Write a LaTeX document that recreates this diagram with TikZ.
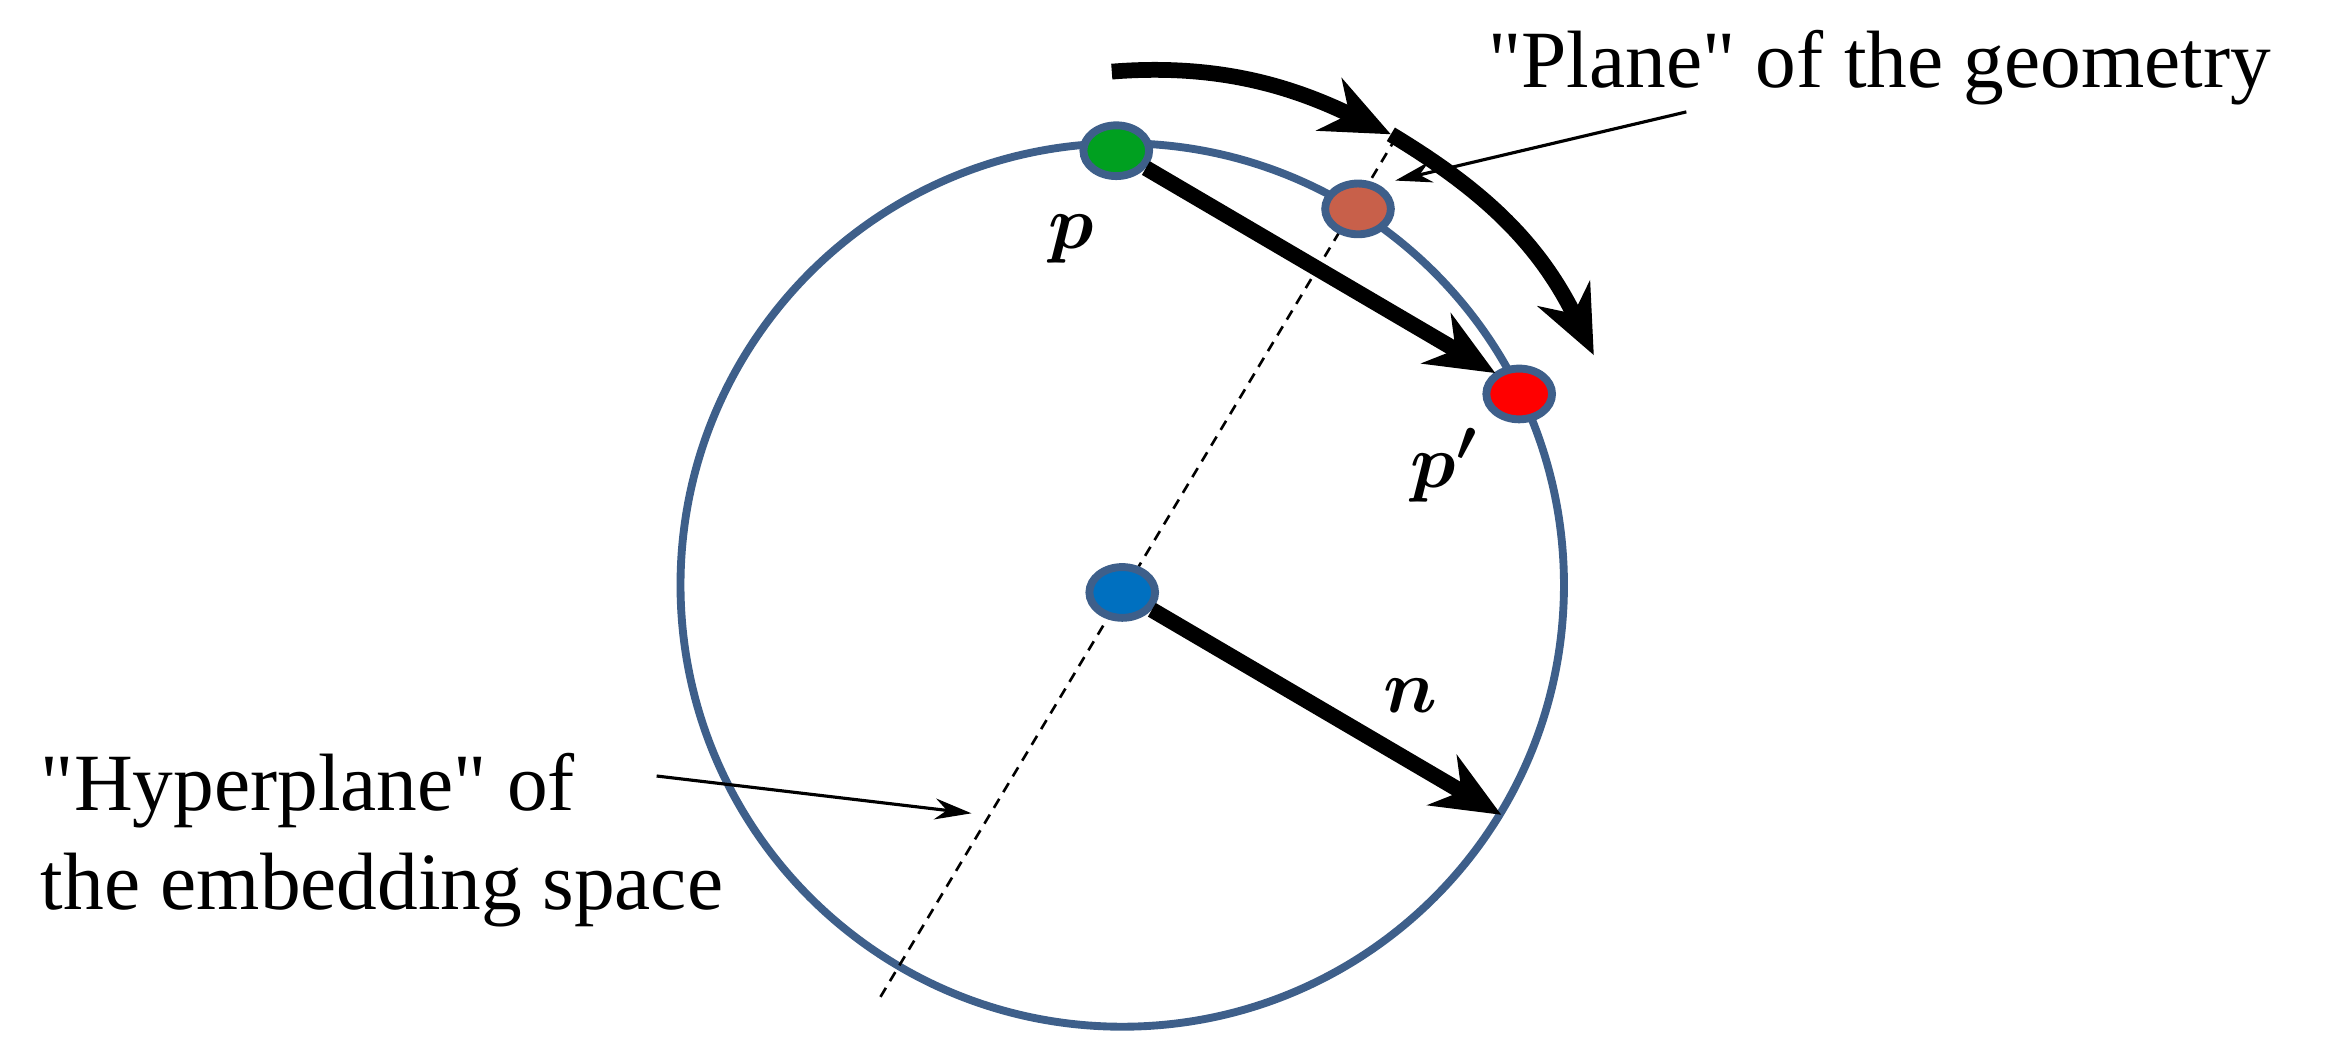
\documentclass[tikz,border=0pt]{standalone}
\usepackage{fontspec}
\newfontfamily\mainf{Liberation Serif}
\usepackage{amsmath,bm}
\usetikzlibrary{arrows.meta,shapes.geometric}
\definecolor{rim}{HTML}{3E5F8A}
\definecolor{dgreen}{HTML}{00A020}
\definecolor{brown}{HTML}{C8604A}
\definecolor{dblue}{HTML}{0070C0}
\tikzset{
 dot/.style={ellipse,draw=rim,line width=1.5pt,minimum width=0.44cm,minimum height=0.34cm,inner sep=0pt},
 bigarrow/.style={line width=3pt,-{Stealth[length=13pt,width=11pt]}},
 thin/.style={line width=0.6pt,-{Stealth[length=7pt,width=4pt]}},
 lbl/.style={font=\mainf\fontsize{15.5}{19}\selectfont},
}
\begin{document}
\begin{tikzpicture}[x=0.01cm,y=-0.01cm]
\useasboundingbox (0,0) rectangle (1568,704);
\draw[rim,line width=1.5pt] (752,392) circle[radius=296];
\draw[dash pattern=on 2pt off 1.5pt,line width=0.5pt] (590,668) -- (938,88);
\node[dot,fill=dgreen] (p) at (748,101) {};
\node[dot,fill=brown] (q) at (910,140) {};
\node[dot,fill=red] (pp) at (1018,264) {};
\node[dot,fill=dblue] (c) at (752,397) {};
\coordinate (pe) at (1002,250);
\coordinate (ne) at (1006,546);
\draw[bigarrow] (p) -- (pe);
\draw[bigarrow] (c) -- (ne);
\coordinate (a0) at (745,48);
\coordinate (a1) at (932,90);
\coordinate (a2) at (1068,238);
\draw[bigarrow] (a0) .. controls (820,42) and (870,60) .. (a1);
\draw[bigarrow] (a1) .. controls (990,125) and (1030,160) .. (a2);
\node[lbl] (pl) at (718,160) {$\bm{p}$};
\node[lbl] (ppl) at (968,312) {$\bm{p'}$};
\node[lbl] (nl) at (945,466) {$\bm{n}$};
\node[lbl,anchor=west] (plane) at (985,45) {"Plane" of the geometry};
\coordinate (pt1) at (1130,75);
\coordinate (pt2) at (935,121);
\draw[thin] (pt1) -- (pt2);
\node[lbl,anchor=north west,align=left] (hyp) at (15,492) {"Hyperplane" of\\the embedding space};
\coordinate (h1) at (440,520);
\coordinate (h2) at (651,545);
\draw[thin] (h1) -- (h2);
\end{tikzpicture}
\end{document}
